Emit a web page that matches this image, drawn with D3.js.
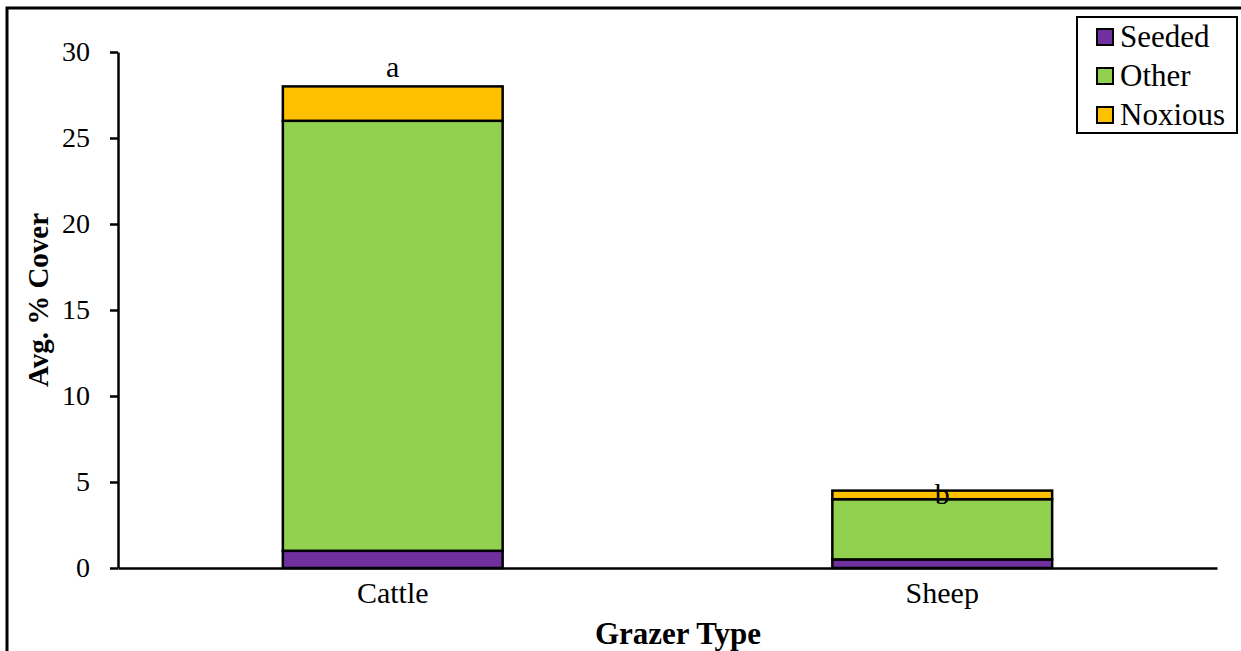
<!DOCTYPE html>
<html>
<head>
<meta charset="utf-8">
<script src="https://cdn.jsdelivr.net/npm/d3@7"></script>
<style>
  body { margin: 0; background: #fff; }
  svg text { font-family: "Liberation Serif", "DejaVu Serif", serif; fill: #000; }
</style>
</head>
<body>
<svg width="1241" height="651"></svg>
<script>
var categories = ["Cattle", "Sheep"];
var seriesNames = ["Seeded", "Other", "Noxious"];
var seeded = [1.0, 0.5];
var other = [25.0, 3.5];
var noxious = [2.0, 0.5];
var letters = ["a", "b"];
var yTicks = [0, 5, 10, 15, 20, 25, 30];
var colors = ["#7030A0", "#92D050", "#FFC000"];

var svg = d3.select("svg");

// outer frame (runs off right and bottom edges)
svg.append("path")
    .attr("d", "M7,651 L7,8 L1241,8")
    .attr("fill", "none")
    .attr("stroke", "#000")
    .attr("stroke-width", 3);

var margin = {left: 118, right: 24, top: 52, bottom: 83};
var width = 1241 - margin.left - margin.right;
var height = 651 - margin.top - margin.bottom;

var g = svg.append("g")
    .attr("transform", "translate(" + margin.left + "," + margin.top + ")");

var x = d3.scaleBand()
    .domain(categories)
    .range([0, width])
    .paddingInner(0.6)
    .paddingOuter(0.3);

var y = d3.scaleLinear()
    .domain([0, 30])
    .range([height, 0]);

// build rows for stacking
var rows = categories.map(function (c, i) {
    return {cat: c, Seeded: seeded[i], Other: other[i], Noxious: noxious[i]};
});
var stacked = d3.stack().keys(seriesNames)(rows);

var layer = g.selectAll(".layer")
    .data(stacked)
    .enter().append("g")
    .attr("class", "layer")
    .attr("fill", function (d, i) { return colors[i]; });

layer.selectAll("rect")
    .data(function (d) { return d; })
    .enter().append("rect")
    .attr("x", function (d) { return x(d.data.cat); })
    .attr("width", x.bandwidth())
    .attr("y", function (d) { return y(d[1]); })
    .attr("height", function (d) { return y(d[0]) - y(d[1]); })
    .attr("stroke", "#000")
    .attr("stroke-width", 2.5);

// y axis
var yAxis = g.append("g")
    .call(d3.axisLeft(y).tickValues(yTicks).tickSize(8).tickSizeOuter(0).tickPadding(20));
yAxis.attr("font-family", null);
yAxis.select(".domain").attr("stroke-width", 2.5);
yAxis.selectAll(".tick line").attr("stroke-width", 2.5);
yAxis.selectAll("text").style("font-size", "28px");

// x axis
var xAxis = g.append("g")
    .attr("transform", "translate(0," + height + ")")
    .call(d3.axisBottom(x).tickSize(0).tickPadding(14));
xAxis.attr("font-family", null);
xAxis.select(".domain").attr("stroke-width", 2.5);
xAxis.selectAll("text").style("font-size", "30px");

// significance letters
var totals = categories.map(function (c, i) { return seeded[i] + other[i] + noxious[i]; });
g.selectAll(".letter")
    .data(letters)
    .enter().append("text")
    .attr("class", "letter")
    .attr("x", function (d, i) { return x(categories[i]) + x.bandwidth() / 2; })
    .attr("y", function (d, i) { return i === 0 ? y(totals[i]) - 9 : y(totals[i]) + 13; })
    .attr("text-anchor", "middle")
    .style("font-size", "30px")
    .text(function (d) { return d; });

// axis titles
svg.append("text")
    .attr("transform", "translate(48,300) rotate(-90)")
    .attr("text-anchor", "middle")
    .style("font-size", "29px")
    .style("font-weight", "bold")
    .text("Avg. % Cover");

svg.append("text")
    .attr("x", 678)
    .attr("y", 644)
    .attr("text-anchor", "middle")
    .style("font-size", "31px")
    .style("font-weight", "bold")
    .text("Grazer Type");

// legend
var legend = svg.append("g").attr("transform", "translate(1077,17)");
legend.append("rect")
    .attr("width", 160)
    .attr("height", 116)
    .attr("fill", "#fff")
    .attr("stroke", "#000")
    .attr("stroke-width", 2);

var item = legend.selectAll(".item")
    .data(seriesNames)
    .enter().append("g")
    .attr("class", "item")
    .attr("transform", function (d, i) { return "translate(20," + (20 + i * 39) + ")"; });

item.append("rect")
    .attr("x", 0)
    .attr("y", -8)
    .attr("width", 16)
    .attr("height", 16)
    .attr("fill", function (d, i) { return colors[i]; })
    .attr("stroke", "#000")
    .attr("stroke-width", 2);

item.append("text")
    .attr("x", 23)
    .attr("y", 10)
    .style("font-size", "31px")
    .text(function (d) { return d; });
</script>
</body>
</html>
